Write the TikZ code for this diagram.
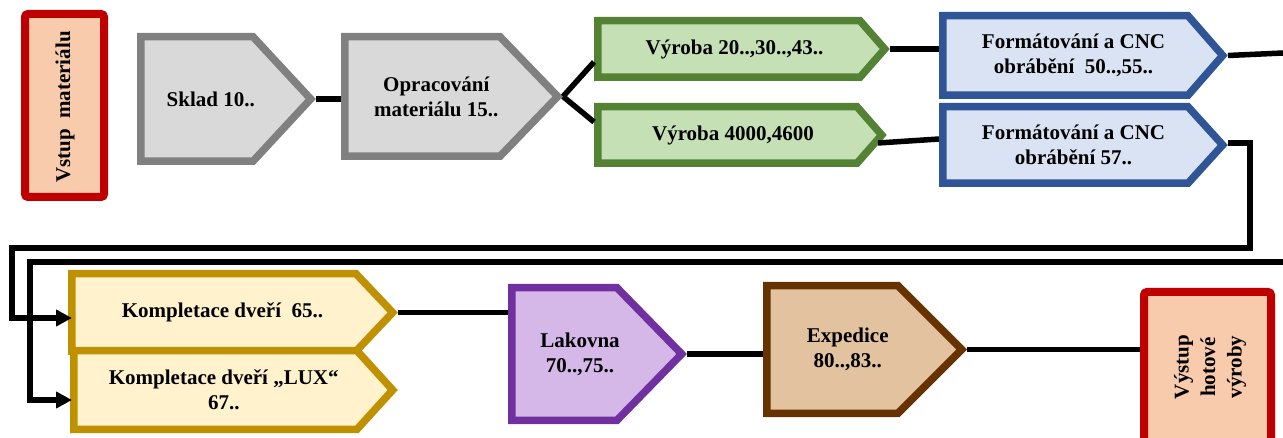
\documentclass[tikz,border=0pt]{standalone}
\usepackage{fontspec}
\setmainfont{Liberation Serif}
\usetikzlibrary{arrows.meta,calc}
\definecolor{redb}{HTML}{C00000}
\definecolor{redf}{HTML}{F8CBAD}
\definecolor{grayb}{HTML}{808080}
\definecolor{grayf}{HTML}{D9D9D9}
\definecolor{greenb}{HTML}{548235}
\definecolor{greenf}{HTML}{C5E0B4}
\definecolor{blueb}{HTML}{2F5597}
\definecolor{bluef}{HTML}{DAE3F3}
\definecolor{goldb}{HTML}{BF9000}
\definecolor{goldf}{HTML}{FFF2CC}
\definecolor{purpb}{HTML}{7030A0}
\definecolor{purpf}{HTML}{D5B7E8}
\definecolor{brownb}{HTML}{663300}
\definecolor{brownf}{HTML}{E2C29F}
\tikzset{
  txt/.style={inner sep=0pt, align=center, font=\bfseries\fontsize{21}{25}\selectfont},
  inbox/.style={draw=redb, fill=redf, line width=8pt, rounded corners=3pt, inner sep=0pt},
  graybox/.style={draw=grayb, fill=grayf},
  greenbox/.style={draw=greenb, fill=greenf},
  bluebox/.style={draw=blueb, fill=bluef},
  goldbox/.style={draw=goldb, fill=goldf},
  purpbox/.style={draw=purpb, fill=purpf},
  brownbox/.style={draw=brownb, fill=brownf},
  conn/.style={line width=5.5pt, black},
  arr/.style={-{Triangle[length=16pt,width=16pt]}}
}
% #1 name, #2 left, #3 top, #4 shoulder, #5 tip, #6 bottom, #7 style, #8 text
\newcommand\flowbox[8]{%
  \draw[#7, line width=7.5pt, line join=miter] ({#2+3.75},{#3+3.75}) -- (#4,{#3+3.75}) -- ({#5-5.3},{(#3+#6)/2}) -- (#4,{#6-3.75}) -- ({#2+3.75},{#6-3.75}) -- cycle;
  \node[txt] (#1) at ({(#2+(#4+#5)/2)/2},{(#3+#6)/2}) {#8};
  \coordinate (#1-w) at (#2,{(#3+#6)/2});
  \coordinate (#1-e) at (#5,{(#3+#6)/2});
}
\begin{document}
\begin{tikzpicture}[x=1pt,y=-1pt]
\clip (0,0) rectangle (1283,438);
\fill[white] (0,0) rectangle (1283,438);

% input / output boxes
\node[inbox, minimum width=79pt, minimum height=183pt] (vin) at (64.5,105.5) {};
\node[txt, rotate=90] (vint) at (65,107) {Vstup\ \ materiálu};
\node[inbox, minimum width=127pt, minimum height=150pt] (vout) at (1207.5,367) {};
\node[txt, rotate=90, font=\bfseries\fontsize{21}{26.5}\selectfont] (voutt) at (1210,367) {Výstup\\hotové\\výroby};

% process boxes
\flowbox{sklad}{137}{33}{253}{316}{165}{graybox}{Sklad 10..}
\flowbox{opr}{341}{33}{500}{563}{160}{graybox}{Opracování\\materiálu 15..}
\flowbox{va}{594}{17}{860}{890}{81}{greenbox}{Výroba 20..,30..,43..}
\flowbox{vb}{594}{103}{857}{887}{167}{greenbox}{Výroba 4000,4600}
\flowbox{fa}{939}{12}{1188}{1228}{99}{bluebox}{Formátování a CNC\\obrábění\ \ 50..,55..}
\flowbox{fb}{939}{103}{1188}{1228}{187}{bluebox}{Formátování a CNC\\obrábění 57..}
\flowbox{ka}{68}{270}{356}{398}{355}{goldbox}{Kompletace dveří\ \ 65..}
\flowbox{kb}{70}{347}{357}{398}{433}{goldbox}{Kompletace dveří „LUX“\\67..}
\flowbox{lak}{508}{284}{617}{687}{424}{purpbox}{Lakovna\\70..,75..}
\flowbox{exp}{763}{282}{898}{967}{417}{brownbox}{Expedice\\80..,83..}

% free ends at the picture edge
\coordinate (out1) at (1283,53);
\coordinate (in2) at (1283,262);
\coordinate (r1) at (1250,248);

% connectors
\draw[conn] ($(sklad-w)+(0,2)$ -| vin.east) -- ($(sklad-w)+(0,2)$);
\draw[conn] (sklad-e) -- ($(sklad-e)+(25,0)$);
\draw[conn] (opr-e) -- ($(va-w)+(0,13)$);
\draw[conn] (opr-e) -- ($(vb-w)+(0,-13)$);
\draw[conn] (va-e) -- (va-e -| fa-w);
\draw[conn] ($(vb-e)+(-9,8)$) -- ($(fb-w)+(0,-6)$);
\draw[conn] (fa-e) -- (out1);
\draw[conn, arr] ($(fb-e)+(0,-2)$) -| (r1) -- (12,248) |- ($(ka-w)+(4,5.5)$);
\draw[conn, arr] (in2) -- (30,262) |- ($(kb-w)+(2,10)$);
\draw[conn] (ka-e) -- (ka-e -| lak-w);
\draw[conn] ($(kb-e)+(-6,8)$) -- ($(kb-e)+(-6,8)$ -| lak-w);
\draw[conn] (lak-e) -- (lak-e -| exp-w);
\draw[conn] (exp-e) -- (exp-e -| vout.west);
\end{tikzpicture}
\end{document}
